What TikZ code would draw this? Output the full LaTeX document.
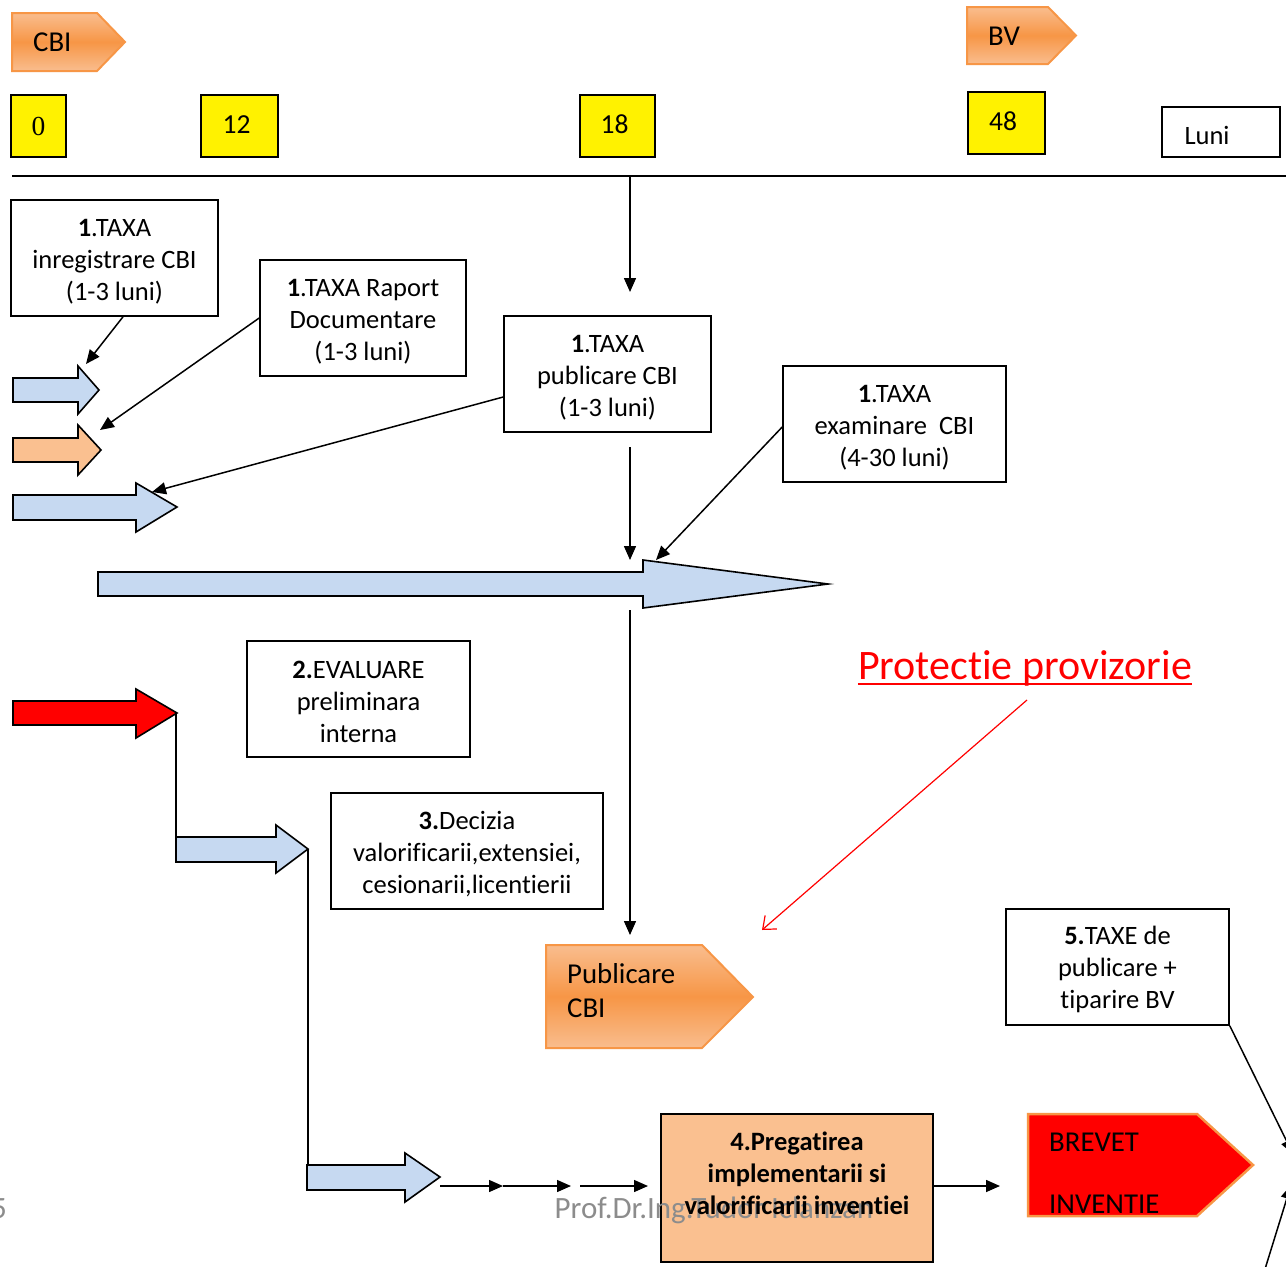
\documentclass[tikz,border=0pt]{standalone}
\usepackage{fontspec}
\setmainfont{Carlito}[Ligatures={NoCommon}]
\newfontfamily\serifzero{Liberation Serif}
\usetikzlibrary{arrows.meta,calc}
\definecolor{ltblue}{HTML}{C6D9F1}
\definecolor{ltorange}{HTML}{FAC090}
\definecolor{midorange}{HTML}{F79646}
\definecolor{gradlight}{HTML}{F9BD8E}
\definecolor{wmgray}{HTML}{8C8C8C}
\newcommand\fsbox{\fontsize{26.5}{32}\selectfont}
\newcommand\fsnum{\fontsize{27.5}{32}\selectfont}
\newcommand\fsshape{\fontsize{28.8}{35}\selectfont}
\newcommand\dn{\rule{0pt}{24pt}}
\begin{document}
\begin{tikzpicture}[x=1pt,y=-1pt,
  box/.style={draw, line width=1.6pt, align=center, inner sep=0pt, font=\fsbox},
  ybox/.style={draw, line width=1.6pt, fill=yellow, inner sep=0pt, font=\fsnum},
  conn/.style={line width=1.5pt, -{Triangle[length=14pt,width=12pt]}},
  link/.style={line width=1.5pt},
  barrow/.style={draw, line width=1.6pt, line join=miter},
  pent/.style={draw=midorange, line width=2pt, top color=gradlight, bottom color=gradlight, middle color=midorange},
  shapetext/.style={font=\fsshape, inner sep=0pt, anchor=base west},
  wmark/.style={font=\fontsize{31}{36}\selectfont, text=wmgray, inner sep=0pt, anchor=base}
]
\useasboundingbox (0,0) rectangle (1286,1267);
\fill[white] (0,0) rectangle (1286,1267);

% ---- top pentagons
\path[pent] (12,13) -- (97,13) -- (125,42) -- (97,71) -- (12,71) -- cycle;
\node[shapetext] (cbi) at (33,51) {CBI};
\path[pent] (967,7) -- (1048,7) -- (1076,35.5) -- (1048,64) -- (967,64) -- cycle;
\node[shapetext] (bv) at (988,45) {BV};

% ---- yellow month boxes
\node[ybox, minimum width=55pt, minimum height=62pt, font=\fontsize{27.5}{32}\serifzero] (m0) at (38.5,126) {0};
\node[ybox, minimum width=77pt, minimum height=62pt] (m12) at (239.5,126) {\hspace*{-6pt}12\rule[-3pt]{0pt}{3pt}};
\node[ybox, minimum width=75pt, minimum height=62pt] (m18) at (617.5,126) {\hspace*{-6pt}18\rule[-3pt]{0pt}{3pt}};
\node[ybox, minimum width=77pt, minimum height=62pt] (m48) at (1006.5,123) {\hspace*{-7pt}48\rule[-3pt]{0pt}{3pt}};
\node[draw, line width=1.6pt, font=\fsbox, text width=75pt, inner xsep=21.5pt, inner ysep=0pt, minimum height=50pt] (luni) at (1221,132) {\hspace*{1pt}\rule{0pt}{26pt}Luni};

% ---- timeline
\coordinate (tl0) at (12,176);
\coordinate (tl1) at (1290,176);
\draw[line width=1.5pt] (tl0) -- (tl1);
\coordinate (t18) at (630,176);
\coordinate (t18e) at (630,292);
\draw[conn] (t18) -- (t18e);

% ---- fee boxes
\node[box, minimum width=207pt, minimum height=116pt] (A) at (114.5,258) {\dn\textbf{1}.TAXA\\inregistrare CBI\\(1-3 luni)};
\node[box, minimum width=206pt, minimum height=116pt] (B) at (363,318) {\dn\textbf{1}.TAXA Raport\\Documentare\\(1-3 luni)};
\node[box, minimum width=207pt, minimum height=116pt] (C) at (607.5,374) {\dn\textbf{1}.TAXA\\publicare CBI\\(1-3 luni)};
\node[box, minimum width=223pt, minimum height=116pt] (D) at (894.5,424) {\dn\textbf{1}.TAXA\\examinare\ \ CBI\\(4-30 luni)};

% ---- small block arrows
\path[barrow, fill=ltblue] (13,378) -- (78,378) -- (78,366) -- (99,390) -- (78,414) -- (78,402) -- (13,402) -- cycle;
\path[barrow, fill=ltorange] (13,438) -- (78,438) -- (78,425) -- (101,450) -- (78,475) -- (78,462) -- (13,462) -- cycle;
\path[barrow, fill=ltblue] (13,495) -- (136,495) -- (136,483) -- (177,507) -- (136,532) -- (136,520) -- (13,520) -- cycle;
\coordinate (a1) at (86,364);
\coordinate (a2) at (100,430);
\coordinate (a3) at (152,492);
\draw[conn] ([xshift=8.5pt]A.south) -- (a1);
\draw[conn] (B.west) -- (a2);
\draw[conn] ([yshift=-23pt]C.west) -- (a3);

% ---- big arrow
\path[barrow, fill=ltblue] (98,572) -- (643,572) -- (643,560) -- (828,584) -- (643,608) -- (643,596) -- (98,596) -- cycle;
\coordinate (cdown) at (630,447);
\coordinate (bigin) at (630,560);
\coordinate (bigin2) at (656,560);
\draw[conn] (cdown) -- (bigin);
\draw[conn] ([yshift=-3pt]D.west) -- (bigin2);

% ---- publicare
\coordinate (pubtop0) at (630,610);
\coordinate (pubtop) at (630,935);
\draw[conn] (pubtop0) -- (pubtop);
\path[pent] (546,945) -- (702,945) -- (753,997) -- (702,1048) -- (546,1048) -- cycle;
\node[shapetext] (pub1) at (567,983) {Publicare};
\node[shapetext] (pub2) at (567,1017) {CBI};

% ---- protectie provizorie
\node[font=\fontsize{42}{50}\selectfont, text=red, inner sep=0pt, anchor=base] (prot) at (1025,679) {Protectie provizorie};
\draw[red, line width=1.6pt] ([yshift=-5pt]prot.base west) -- ([yshift=-5pt]prot.base east);
\coordinate (prs) at (1027,700);
\coordinate (pre) at (762,930);
\draw[red, line width=1.2pt, -{Straight Barb[length=11pt,width=18pt]}] (prs) -- (pre);

% ---- evaluation / decision
\node[box, minimum width=223pt, minimum height=116pt] (E) at (358.5,699) {\dn\textbf{2.}EVALUARE\\preliminara\\interna};
\node[box, minimum width=272pt, minimum height=116pt] (F) at (467,851) {\dn\textbf{3.}Decizia\\valorificarii,extensiei,\\cesionarii,licentierii};

\path[barrow, fill=red] (13,701) -- (136,701) -- (136,689) -- (177,713) -- (136,738) -- (136,725) -- (13,725) -- cycle;
\coordinate (redtip) at (176,713);
\coordinate (b2left) at (176,837);
\draw[link] (redtip) -- (b2left);
\path[barrow, fill=ltblue] (176,837) -- (276,837) -- (276,825) -- (308,849) -- (276,873) -- (276,862) -- (176,862) -- cycle;
\coordinate (b2tip) at (308,849);
\coordinate (b3left) at (308,1190);
\draw[link] (b2tip) -- (b3left);
\path[barrow, fill=ltblue] (307,1165) -- (405,1165) -- (405,1153) -- (440,1177) -- (405,1202) -- (405,1190) -- (307,1190) -- cycle;

\coordinate (s0) at (440,1186);
\coordinate (s1) at (503,1186);
\coordinate (s2) at (571,1186);
\coordinate (s3) at (580,1186);
\coordinate (s4) at (648,1186);
\draw[conn] (s0) -- (s1);
\draw[conn] (s1) -- (s2);
\draw[conn] (s3) -- (s4);

% ---- step 4 box
\node[draw, line width=1.6pt, fill=ltorange, minimum width=272pt, minimum height=148pt, inner sep=0pt] (H) at (797,1188) {};
\node[wmark] (wm) at (714,1218) {Prof.Dr.Ing.Tudor Iclanzan};
\node[wmark] (pg) at (-1,1218) {5};
\node[font=\fsbox\bfseries, align=center, inner sep=0pt] (Ht) at (797,1173) {4.Pregatirea\\implementarii si\\valorificarii inventiei};

\coordinate (hb) at (1000,1186);
\draw[conn] (H.east |- hb) -- (hb);

% ---- brevet
\path[draw=midorange, line width=2.5pt, fill=red] (1028,1114) -- (1197,1114) -- (1253,1165) -- (1197,1216) -- (1028,1216) -- cycle;
\node[shapetext] (br1) at (1049,1151) {BREVET};
\node[shapetext] (br2) at (1049,1213) {INVENTIE};

% ---- step 5 box
\node[box, minimum width=223pt, minimum height=116pt] (G) at (1117.5,967) {\dn\textbf{5.}TAXE de\\publicare +\\tiparire BV};
\coordinate (g5) at (1293,1154);
\draw[conn] (G.south east) -- (g5);
\coordinate (g6s) at (1261,1282);
\coordinate (g6) at (1291,1185);
\draw[conn] (g6s) -- (g6);
\end{tikzpicture}
\end{document}
